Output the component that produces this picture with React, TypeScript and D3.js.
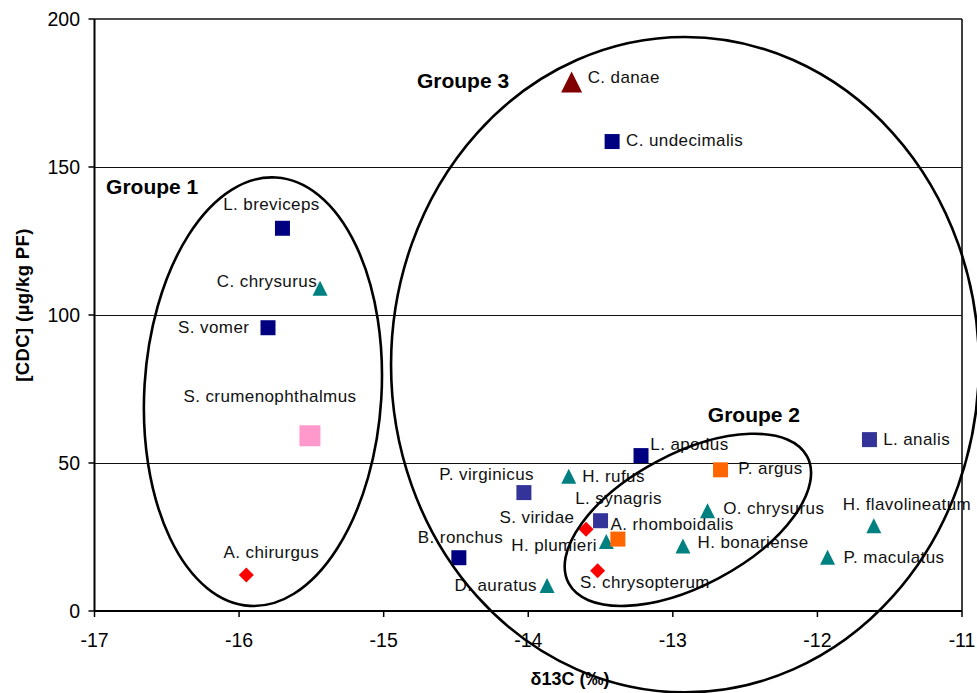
import React, { useLayoutEffect } from "react";
import * as d3 from "d3";

// ---- data ----
const xTicks = [-17, -16, -15, -14, -13, -12, -11];
const yTicks = [0, 50, 100, 150, 200];

const species = [
  "L. breviceps", "C. chrysurus", "S. vomer", "S. crumenophthalmus", "A. chirurgus",
  "C. danae", "C. undecimalis", "L. apodus", "P. argus", "P. virginicus",
  "H. rufus", "L. synagris", "S. viridae", "H. plumieri", "A. rhomboidalis",
  "O. chrysurus", "H. bonariense", "S. chrysopterum", "B. ronchus", "D. auratus",
  "L. analis", "H. flavolineatum", "P. maculatus",
];
const d13C = [
  -15.70, -15.44, -15.80, -15.51, -15.95,
  -13.70, -13.42, -13.22, -12.67, -14.03,
  -13.72, -13.50, -13.60, -13.46, -13.38,
  -12.76, -12.93, -13.52, -14.48, -13.87,
  -11.64, -11.61, -11.93,
];
const cdc = [
  129.3, 109.0, 95.7, 59.2, 12.2,
  178.7, 158.6, 52.5, 47.7, 40.0,
  45.5, 30.5, 27.6, 23.5, 24.3,
  33.9, 22.0, 13.6, 18.0, 8.6,
  57.9, 28.8, 18.2,
];
const seriesOf = [
  "navy", "teal", "navy", "pink", "red",
  "darkred", "navy", "navy", "orange", "slate",
  "teal", "slate", "red", "teal", "orange",
  "teal", "teal", "red", "navy", "teal",
  "slate", "teal", "teal",
];

const groupNames = ["Groupe 1", "Groupe 3", "Groupe 2"];
const groupLabelX = [-16.92, -14.77, -12.758];
const groupLabelY = [140.8, 176.6, 64.0];
const ellipseCx = [-15.835, -12.916, -12.896];
const ellipseCy = [74.1, 83.2, 30.8];
const ellipseRx = [0.82, 2.033, 0.934]; // in x units
const ellipseRy = [72.5, 110.7, 22.3]; // in y units
const ellipseAngle = [3.5, 0, -28];

// ---- styles ----
const seriesStyle: Record<string, { shape: string; color: string; size: number }> = {
  navy: { shape: "square", color: "#000080", size: 15 },
  slate: { shape: "square", color: "#333399", size: 15 },
  orange: { shape: "square", color: "#FF6600", size: 15 },
  pink: { shape: "square", color: "#FF99CC", size: 21 },
  teal: { shape: "triangle", color: "#008080", size: 15 },
  darkred: { shape: "triangle", color: "#800000", size: 21 },
  red: { shape: "diamond", color: "#FF0000", size: 15 },
};

// label placement: [anchor, dx, dy] relative to the marker centre (px)
const labelPlacement: [string, number, number][] = [
  ["middle", -11, -18], ["end", -3, -1], ["end", -18.7, 5.7], ["middle", -40, -34], ["middle", 25, -17],
  ["start", 16, 1], ["start", 14, 4], ["start", 9.3, -6], ["start", 17.7, 4], ["end", 10, -12.7],
  ["start", 13.4, 6], ["start", -25.3, -16.7], ["end", -11.7, -6], ["end", -9.4, 9.5], ["start", -7.3, -9.3],
  ["start", 15.6, 3.6], ["start", 14.6, 2.3], ["start", -17.6, 17.6], ["start", -41, -14.4], ["end", -10, 5.3],
  ["start", 13.7, 5.7], ["start", -31, -16], ["start", 16, 5.4],
];

const W = 977;
const H = 693;
const FONT = "'Liberation Sans', Arial, sans-serif";

function markerPath(shape: string, s: number) {
  const h = s / 2;
  if (shape === "square") return `M${-h},${-h}H${h}V${h}H${-h}Z`;
  if (shape === "triangle") return `M0,${-h}L${h},${h}L${-h},${h}Z`;
  return `M0,${-h}L${h},0L0,${h}L${-h},0Z`;
}

export default function App() {
  useLayoutEffect(() => {
    document.body.style.margin = "0";
    document.body.style.overflow = "hidden";
  }, []);

  const x = d3.scaleLinear().domain([-17, -11]).range([94.5, 962]);
  const y = d3.scaleLinear().domain([0, 200]).range([611, 19]);
  const [x0, x1] = x.range();
  const [y0, y1] = y.range();

  return (
    <svg width={W} height={H} style={{ display: "block", background: "#fff" }} fontFamily={FONT}>
      {/* gridlines */}
      {yTicks.filter((t) => t > 0 && t < 200).map((t) => (
        <line key={"g" + t} x1={x0} x2={x1} y1={y(t)} y2={y(t)} stroke="#111" strokeWidth={1} shapeRendering="crispEdges" />
      ))}
      {/* plot frame */}
      <line x1={x0} x2={x1} y1={y1} y2={y1} stroke="#111" strokeWidth={1.6} />
      <line x1={x1} x2={x1} y1={y1} y2={y0} stroke="#111" strokeWidth={1.6} />
      <line x1={x0} x2={x0} y1={y1} y2={y0} stroke="#000" strokeWidth={2} />
      <line x1={x0} x2={x1} y1={y0} y2={y0} stroke="#000" strokeWidth={2} />
      {/* y ticks */}
      {yTicks.map((t) => (
        <g key={"y" + t}>
          <line x1={x0 - 6} x2={x0} y1={y(t)} y2={y(t)} stroke="#000" strokeWidth={1.5} />
          <text x={80} y={y(t) + 7} textAnchor="end" fontSize={19.5} fill="#000">{t}</text>
        </g>
      ))}
      {/* x ticks */}
      {xTicks.map((t) => (
        <g key={"x" + t}>
          <line x1={x(t)} x2={x(t)} y1={y0} y2={y0 + 6} stroke="#000" strokeWidth={1.5} />
          <text x={x(t)} y={647} textAnchor="middle" fontSize={19.5} fill="#000">{t}</text>
        </g>
      ))}
      {/* axis titles */}
      <text x={570} y={685} textAnchor="middle" fontSize={18} fontWeight="bold">δ13C (‰)</text>
      <text
        transform={`translate(29,${(y0 + y1) / 2 - 10}) rotate(-90)`}
        textAnchor="middle"
        fontSize={18.5}
        fontWeight="bold"
        letterSpacing={0.4}
      >
        [CDC] (µg/kg PF)
      </text>
      {/* markers */}
      {species.map((name, i) => {
        const st = seriesStyle[seriesOf[i]];
        return (
          <path
            key={"m" + name}
            d={markerPath(st.shape, st.size)}
            transform={`translate(${x(d13C[i])},${y(cdc[i])})`}
            fill={st.color}
          />
        );
      })}
      {/* labels */}
      {species.map((name, i) => {
        const [anchor, dx, dy] = labelPlacement[i];
        return (
          <text
            key={"l" + name}
            x={x(d13C[i]) + dx}
            y={y(cdc[i]) + dy}
            textAnchor={anchor}
            fontSize={17}
            letterSpacing={0.4}
            fill="#111"
          >
            {name}
          </text>
        );
      })}
      {/* group labels */}
      {groupNames.map((g, i) => (
        <text key={g} x={x(groupLabelX[i])} y={y(groupLabelY[i])} fontSize={21} fontWeight="bold" fill="#000">
          {g}
        </text>
      ))}
      {/* group ellipses */}
      {groupNames.map((g, i) => {
        const cx = x(ellipseCx[i]);
        const cy = y(ellipseCy[i]);
        const rx = x(ellipseCx[i] + ellipseRx[i]) - cx;
        const ry = cy - y(ellipseCy[i] + ellipseRy[i]);
        return (
          <ellipse
            key={"e" + g}
            cx={cx}
            cy={cy}
            rx={rx}
            ry={ry}
            transform={`rotate(${ellipseAngle[i]},${cx},${cy})`}
            fill="none"
            stroke="#000"
            strokeWidth={2.6}
          />
        );
      })}
    </svg>
  );
}
